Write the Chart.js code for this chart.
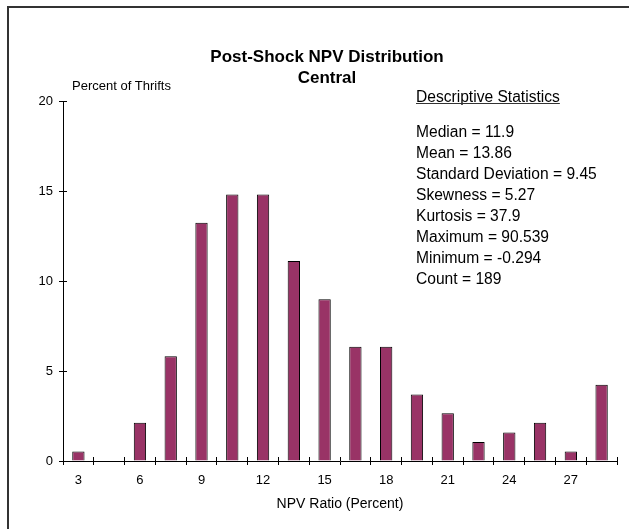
<!DOCTYPE html>
<html>
<head>
<meta charset="utf-8">
<script src="https://cdn.jsdelivr.net/npm/chart.js@4.4.1/dist/chart.umd.min.js"></script>
<style>
    html, body { margin: 0; padding: 0; background: #fff; }
    canvas { display: block; }
</style>
</head>
<body>
<canvas id="npvChart" width="629" height="529"></canvas>
<script>
// --- DATA ---
const binLabels = ['3', '4.5', '6', '7.5', '9', '10.5', '12', '13.5', '15', '16.5', '18', '19.5', '21', '22.5', '24', '25.5', '27', '28.5'];
const percentOfThrifts = [0.53, 0, 2.12, 5.82, 13.23, 14.81, 14.81, 11.11, 8.99, 6.35, 6.35, 3.70, 2.65, 1.06, 1.59, 2.12, 0.53, 4.23];
const yTicks = [0, 5, 10, 15, 20];
const titleLines = ['Post-Shock NPV Distribution', 'Central'];
const yAxisCaption = 'Percent of Thrifts';
const xAxisCaption = 'NPV Ratio (Percent)';
const statsHeading = 'Descriptive Statistics';
const statsLines = ['Median = 11.9', 'Mean = 13.86', 'Standard Deviation = 9.45', 'Skewness = 5.27',
    'Kurtosis = 37.9', 'Maximum = 90.539', 'Minimum = -0.294', 'Count = 189'];

const FONT = "'Liberation Sans', Arial, sans-serif";
Chart.defaults.font.family = FONT;
Chart.defaults.color = '#000';

const align = v => Math.round(v - 0.5) + 0.5;

// frame, titles, stats box and the inner half of the cross tick marks
const decorations = {
    id: 'decorations',
    afterDatasetsDraw(chart) {
        const { ctx, scales: { x, y } } = chart;
        ctx.save();

        ctx.strokeStyle = '#000';
        ctx.lineWidth = 1;
        ctx.beginPath();
        for (let i = 0; i <= binLabels.length; i++) {
            const px = align(x.getPixelForValue(i - 0.5));
            ctx.moveTo(px, y.bottom);
            ctx.lineTo(px, y.bottom - 4);
        }
        yTicks.forEach(v => {
            const py = align(y.getPixelForValue(v));
            ctx.moveTo(x.left, py);
            ctx.lineTo(x.left + 4, py);
        });
        ctx.stroke();

        // outer frame (only top and left visible)
        ctx.strokeStyle = '#333';
        ctx.lineWidth = 2;
        ctx.strokeRect(8, 7, 700, 600);

        ctx.fillStyle = '#000';
        ctx.textBaseline = 'alphabetic';

        ctx.font = `bold 17px ${FONT}`;
        ctx.textAlign = 'center';
        ctx.fillText(titleLines[0], 327, 62);
        ctx.fillText(titleLines[1], 327, 83);

        ctx.textAlign = 'left';
        ctx.font = `13px ${FONT}`;
        ctx.fillText(yAxisCaption, 72, 90);

        ctx.font = `15.6px ${FONT}`;
        ctx.fillText(statsHeading, 416, 101.5);
        const w = ctx.measureText(statsHeading).width;
        ctx.lineWidth = 1;
        ctx.beginPath();
        ctx.moveTo(416, 103.5);
        ctx.lineTo(416 + w, 103.5);
        ctx.stroke();
        statsLines.forEach((line, i) => ctx.fillText(line, 416, 136.5 + i * 21));

        ctx.restore();
    }
};

new Chart(document.getElementById('npvChart').getContext('2d'), {
    type: 'bar',
    data: {
        labels: binLabels,
        datasets: [{
            data: percentOfThrifts,
            backgroundColor: '#993366',
            borderColor: '#000',
            borderWidth: 1,
            barPercentage: 0.4,
            categoryPercentage: 1
        }]
    },
    options: {
        responsive: false,
        animation: false,
        layout: { padding: { top: 101, right: 12, bottom: 0, left: 0 } },
        plugins: { legend: { display: false }, tooltip: { enabled: false } },
        scales: {
            x: {
                grid: { display: true, drawOnChartArea: false, drawTicks: true, tickLength: 4, color: '#000' },
                border: { display: true, color: '#000', width: 1 },
                ticks: {
                    autoSkip: false, maxRotation: 0, padding: 8,
                    font: { size: 13 },
                    callback: (v, i) => Number.isInteger(Number(binLabels[i])) ? binLabels[i] : ''
                },
                title: { display: true, text: xAxisCaption, font: { size: 14 }, padding: { top: 4, bottom: 16 } },
                afterFit: s => { s.height = 68; }
            },
            y: {
                min: 0, max: 20,
                grid: { display: true, drawOnChartArea: false, drawTicks: true, tickLength: 4, color: '#000' },
                border: { display: true, color: '#000', width: 1 },
                ticks: { padding: 6, font: { size: 13 } },
                afterBuildTicks: s => { s.ticks = yTicks.map(v => ({ value: v })); },
                afterFit: s => { s.width = 63; }
            }
        }
    },
    plugins: [decorations]
});
</script>
</body>
</html>
